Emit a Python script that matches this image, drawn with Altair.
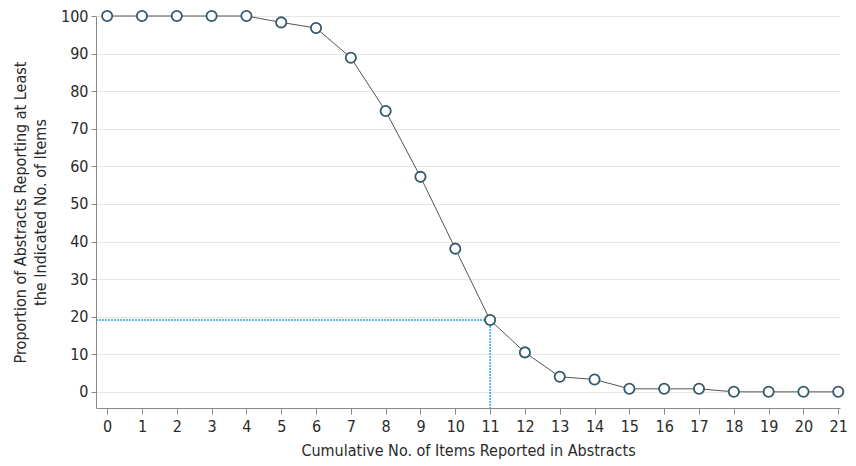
import altair as alt
import pandas as pd

items = list(range(22))
proportion = [100, 100, 100, 100, 100, 98.3, 96.8, 88.9, 74.7, 57.2, 38.1, 19.1,
              10.5, 4.0, 3.3, 0.8, 0.8, 0.8, 0, 0, 0, 0]
ref_x = 11
ref_y = 19.1

df = pd.DataFrame({"x": items, "y": proportion})
ref_h = pd.DataFrame({"x": [-0.32, ref_x], "y": [ref_y, ref_y]})
ref_v = pd.DataFrame({"x": [ref_x, ref_x], "y": [ref_y, -4.3]})

FONT = "DejaVu Sans Condensed"
xscale = alt.Scale(domain=[-0.32, 21.05], nice=False, zero=False)
yscale = alt.Scale(domain=[-4.3, 100], nice=False, zero=False)

xaxis = alt.Axis(values=items, title="Cumulative No. of Items Reported in Abstracts",
                 grid=False, tickSize=6, labelPadding=4, titlePadding=8, labelOverlap=False,
                 domainColor="#8a8a8a", tickColor="#8a8a8a")
yaxis = alt.Axis(values=list(range(0, 101, 10)),
                 title=["Proportion of Abstracts Reporting at Least", "the Indicated No. of Items"],
                 grid=True, gridColor="#e6e6e6", tickSize=5, labelPadding=3, titlePadding=12,
                 labelOverlap=False, titleLineHeight=20,
                 domainColor="#8a8a8a", tickColor="#8a8a8a")

X = alt.X("x:Q", scale=xscale, axis=xaxis)
Y = alt.Y("y:Q", scale=yscale, axis=yaxis)

hline = alt.Chart(ref_h).mark_line(color="#2ba6e0", strokeDash=[2, 1], strokeWidth=1.5).encode(x=X, y=Y)
vline = alt.Chart(ref_v).mark_line(color="#2ba6e0", strokeDash=[2, 1], strokeWidth=1.5).encode(x=X, y=Y)
line = alt.Chart(df).mark_line(color="#555555", strokeWidth=1).encode(x=X, y=Y)
pts = alt.Chart(df).mark_point(shape="circle", filled=True, fill="white", stroke="#34596a",
                               strokeWidth=1.8, size=105, opacity=1).encode(x=X, y=Y)

chart = alt.layer(hline, vline, line, pts).properties(
    width=744, height=392,
    autosize=alt.AutoSizeParams(type="none"),
    padding={"left": 88, "top": 8, "right": 8, "bottom": 58},
).configure_view(stroke=None).configure_axis(
    labelFont=FONT, titleFont=FONT, labelFontSize=16, titleFontSize=16,
    labelColor="#2a2a2a", titleColor="#2a2a2a", titleFontWeight="normal",
)

chart.save("out.html", embed_options={"renderer": "svg", "actions": False})
